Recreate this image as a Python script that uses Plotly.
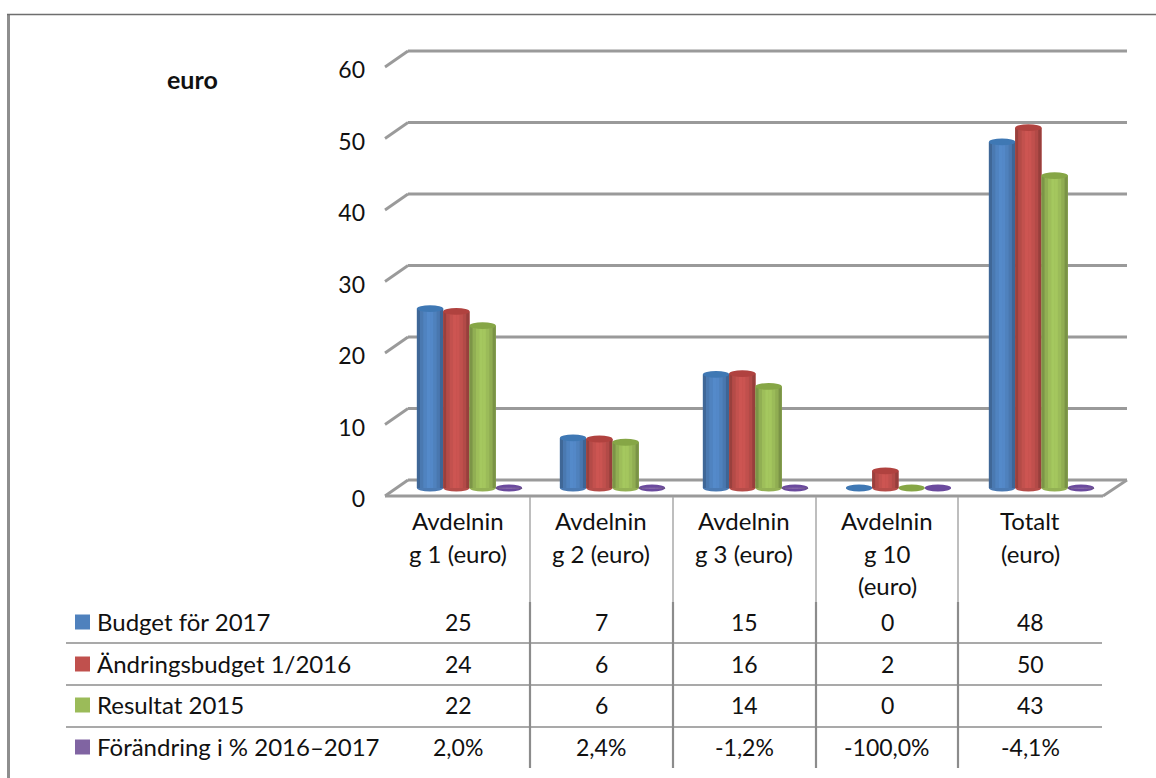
import plotly.graph_objects as go

W, H = 1156, 778

# ---------- data ----------
category_labels = ["Avdelnin<br>g 1 (euro)", "Avdelnin<br>g 2 (euro)", "Avdelnin<br>g 3 (euro)",
                   "Avdelnin<br>g 10<br>(euro)", "Totalt<br>(euro)"]
series_names = ["Budget för 2017", "Ändringsbudget 1/2016", "Resultat 2015", "Förändring i % 2016–2017"]
budget_2017 = [25.1, 7.0, 15.9, 0.0, 48.4]
andringsbudget = [24.7, 6.85, 16.0, 2.4, 50.4]
resultat_2015 = [22.7, 6.4, 14.2, 0.0, 43.7]
forandring = [0.02, 0.024, -0.012, 0.0, -0.041]
table_budget = ["25", "7", "15", "0", "48"]
table_andring = ["24", "6", "16", "2", "50"]
table_resultat = ["22", "6", "14", "0", "43"]
table_forandring = ["2,0%", "2,4%", "-1,2%", "-100,0%", "-4,1%"]
y_ticks = [0, 10, 20, 30, 40, 50, 60]
colors = ["#4F81BD", "#C0504D", "#9BBB59", "#8064A2"]
cap_colors = ["#3F78B4", "#B0423F", "#86A646", "#6B4A9E"]

all_values = [budget_2017, andringsbudget, resultat_2015, forandring]
all_table = [table_budget, table_andring, table_resultat, table_forandring]

# ---------- geometry (pixels) ----------
def px(x): return x / W
def py(y): return 1 - y / H

PX_PER_UNIT = 7.15
Y0_PX = 488.0
Y_LOW, Y_HIGH = -2, 62
CAT_W = 143.0
PLOT_L = 398.0
DEPTH = 8 / PX_PER_UNIT
BAR_W = 26.3 / CAT_W
CAP = 3.4 / PX_PER_UNIT
GRID = "#9a9a9a"

def lighten(hexcol, f):
    r, g, b = int(hexcol[1:3], 16), int(hexcol[3:5], 16), int(hexcol[5:7], 16)
    r, g, b = [max(0, min(255, int(c * f))) for c in (r, g, b)]
    return f"rgb({r},{g},{b})"

fig = go.Figure()
shapes, annotations = [], []

# gridlines with the 3-D wall
BACK_L, BACK_R, FRONT_L, FRONT_R = 408, 1127, 385, 1103
for t in y_ticks:
    shapes.append(dict(type="line", layer="below", xref="paper", yref="y", x0=px(FRONT_L), x1=px(BACK_L),
                       y0=t - DEPTH, y1=t + DEPTH, line=dict(color=GRID, width=2.8)))
    shapes.append(dict(type="line", layer="below", xref="paper", yref="y", x0=px(BACK_L), x1=px(BACK_R),
                       y0=t + DEPTH, y1=t + DEPTH, line=dict(color=GRID, width=2.8)))
# floor
shapes.append(dict(type="line", layer="below", xref="paper", yref="y", x0=px(BACK_R), x1=px(FRONT_R),
                   y0=DEPTH, y1=-DEPTH, line=dict(color=GRID, width=2.8)))
shapes.append(dict(type="line", layer="below", xref="paper", yref="y", x0=px(FRONT_L), x1=px(FRONT_R),
                   y0=-DEPTH, y1=-DEPTH, line=dict(color=GRID, width=2.8)))

# cylinders
profile = [0.80, 0.94, 1.02, 1.07, 1.06, 1.0, 0.93, 0.79]
N = len(profile)
xs = list(range(len(category_labels)))
for i, (name, vals) in enumerate(zip(series_names, all_values)):
    left = -2 * BAR_W + i * BAR_W
    fig.add_trace(go.Bar(x=xs, y=vals, name=name, width=BAR_W, offset=left,
                         marker=dict(color=colors[i], line=dict(width=0)), showlegend=False))
    for k, f in enumerate(profile):
        fig.add_trace(go.Bar(x=xs, y=vals, name=name, width=BAR_W / N, offset=left + k * BAR_W / N,
                             marker=dict(color=lighten(colors[i], f), line=dict(width=0)),
                             showlegend=False, hoverinfo="skip"))
    for x, v in zip(xs, vals):
        x0, x1 = x + left, x + left + BAR_W
        shapes.append(dict(type="circle", layer="below", xref="x", yref="y", x0=x0, x1=x1,
                           y0=-CAP, y1=CAP, fillcolor=lighten(colors[i], 0.95) if abs(v) > 0.5 else cap_colors[i],
                           line=dict(width=0)))
        if abs(v) > 0.5:
            shapes.append(dict(type="circle", layer="above", xref="x", yref="y", x0=x0, x1=x1,
                               y0=v - CAP, y1=v + CAP, fillcolor=cap_colors[i], line=dict(width=0)))

# invisible trace so the front-plane value axis is drawn
fig.add_trace(go.Scatter(x=[0, 0], y=[0, 60], yaxis="y2", mode="none", showlegend=False, hoverinfo="skip"))

# table lines
TBL_R = 1102
for y in (643, 685, 727):
    shapes.append(dict(type="line", xref="paper", yref="paper", x0=px(66), x1=px(TBL_R), y0=py(y), y1=py(y),
                       line=dict(color="#8c8c8c", width=1.5)))
for x in (530, 673, 816, 958):
    shapes.append(dict(type="line", xref="paper", yref="paper", x0=px(x), x1=px(x), y0=py(497), y1=py(602),
                       line=dict(color="#a8a8a8", width=1.5)))
    shapes.append(dict(type="line", xref="paper", yref="paper", x0=px(x), x1=px(x), y0=py(602), y1=py(768),
                       line=dict(color="#8c8c8c", width=2.2)))

# frame
shapes.append(dict(type="line", xref="paper", yref="paper", x0=px(8.5), x1=px(8.5), y0=py(15), y1=py(778),
                   line=dict(color="#8e8e8e", width=3)))
shapes.append(dict(type="line", xref="paper", yref="paper", x0=px(7), x1=px(1156), y0=py(14.5), y1=py(14.5),
                   line=dict(color="#6e6e6e", width=1.5)))

FONT = "Lato, Carlito, 'Open Sans', sans-serif"
def text(x, y, s, size=24, anchor="center", bold=False):
    annotations.append(dict(x=px(x), y=py(y), xref="paper", yref="paper", text=f"<b>{s}</b>" if bold else s,
                            showarrow=False, xanchor=anchor, yanchor="middle", align="center",
                            font=dict(family=FONT, size=size, color="#111111")))

text(192.5, 79, "euro", size=25, bold=True)

# category headers
cat_centres = [458, 601, 744, 887, 1030]
for c, lab in zip(cat_centres, category_labels):
    lines = lab.split("<br>")
    for j, ln in enumerate(lines):
        text(c, 520.5 + j * 32.5, ln)

# table rows
row_y = [621, 663, 704, 746]
for r, (name, y) in enumerate(zip(series_names, row_y)):
    shapes.append(dict(type="rect", xref="paper", yref="paper", x0=px(75), x1=px(90), y0=py(y - 6.5), y1=py(y + 8.5),
                       fillcolor=colors[r], line=dict(width=0)))
    text(95, y, name, anchor="left")
    for c, s in zip(cat_centres, all_table[r]):
        text(c, y + 1, s, size=23)

fig.update_layout(
    width=W, height=H, margin=dict(l=0, r=0, t=0, b=0, autoexpand=False), autosize=False,
    paper_bgcolor="white", plot_bgcolor="rgba(0,0,0,0)", barmode="overlay", showlegend=False,
    shapes=shapes, annotations=annotations, font=dict(family=FONT),
    xaxis=dict(domain=[px(PLOT_L), px(PLOT_L + 5 * CAT_W)], range=[-0.5, 4.5], visible=False, fixedrange=True),
    yaxis=dict(domain=[py(Y0_PX - Y_LOW * PX_PER_UNIT), py(Y0_PX - Y_HIGH * PX_PER_UNIT)],
               range=[Y_LOW, Y_HIGH], visible=False, fixedrange=True),
    yaxis2=dict(domain=[py(499), py(499 - 60 * PX_PER_UNIT)], range=[0, 60], anchor="free", position=px(365),
                tickvals=y_ticks, ticks="", showgrid=False, zeroline=False, showline=False,
                tickfont=dict(family=FONT, size=23, color="#111111"), fixedrange=True),
)

fig.write_html("out.html", config={"displayModeBar": False},
               post_script="document.body.style.margin='0';")
